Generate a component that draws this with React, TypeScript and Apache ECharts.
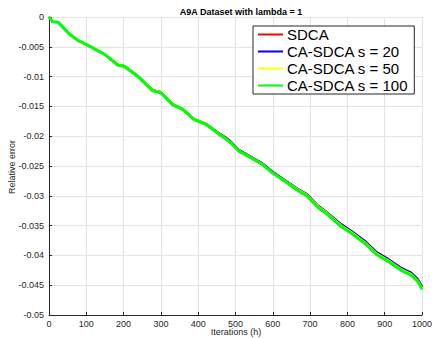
import React, { useEffect, useRef } from "react";
import * as echarts from "echarts";

const iterations = [0, 10, 25, 55, 77, 115, 123, 150, 185, 202, 230, 242, 278, 300, 331, 358, 389, 420, 456, 473, 487, 509, 535, 571, 598, 633, 669, 691, 722, 740, 784, 811, 847, 877, 909, 944, 971, 989, 1000];

const sdca = [0, -0.0008, -0.0009, -0.0029, -0.0039, -0.0051, -0.0054, -0.0063, -0.0080, -0.0082, -0.0095, -0.0101, -0.0123, -0.0126, -0.0146, -0.0154, -0.0171, -0.0179, -0.0195, -0.0202, -0.0209, -0.0223, -0.0232, -0.0245, -0.0259, -0.0274, -0.0289, -0.0297, -0.0317, -0.0325, -0.0348, -0.0359, -0.0376, -0.0394, -0.0406, -0.0421, -0.0429, -0.0440, -0.0452];
const caS20 = [0, -0.0008, -0.0009, -0.0029, -0.0039, -0.0051, -0.0054, -0.0063, -0.0080, -0.0082, -0.0095, -0.0101, -0.0123, -0.0126, -0.0146, -0.0154, -0.0171, -0.0179, -0.0195, -0.0202, -0.0209, -0.0223, -0.0232, -0.0245, -0.0259, -0.0274, -0.0289, -0.0297, -0.0317, -0.0325, -0.0348, -0.0359, -0.0376, -0.0394, -0.0406, -0.0421, -0.0429, -0.0440, -0.0453];
const caS50 = [0, -0.0008, -0.0009, -0.0029, -0.0039, -0.0051, -0.0054, -0.0063, -0.0080, -0.0082, -0.0095, -0.0101, -0.0123, -0.0126, -0.0146, -0.0154, -0.0171, -0.0179, -0.0196, -0.0203, -0.0210, -0.0224, -0.0233, -0.0246, -0.0260, -0.0275, -0.0290, -0.0298, -0.0318, -0.0326, -0.0350, -0.0361, -0.0378, -0.0396, -0.0408, -0.0423, -0.0431, -0.0442, -0.0455];
const caS100 = [0, -0.0008, -0.0009, -0.0029, -0.0039, -0.0051, -0.0054, -0.0063, -0.0081, -0.0083, -0.0096, -0.0102, -0.0124, -0.0127, -0.0147, -0.0155, -0.0172, -0.0180, -0.0197, -0.0204, -0.0211, -0.0225, -0.0234, -0.0247, -0.0261, -0.0276, -0.0292, -0.0300, -0.0320, -0.0328, -0.0352, -0.0363, -0.0380, -0.0398, -0.0410, -0.0425, -0.0433, -0.0444, -0.0457];

const seriesNames = ["SDCA", "CA-SDCA s = 20", "CA-SDCA s = 50", "CA-SDCA s = 100"];
const seriesColors = ["#ff0000", "#0000ff", "#ffff00", "#00ff00"];
const seriesWidths = [2, 2, 2, 3];
const seriesValues = [sdca, caS20, caS50, caS100];

export default function App() {
  const ref = useRef<HTMLDivElement>(null);
  useEffect(() => {
    if (!ref.current) return;
    document.body.style.margin = "0";
    const chart = echarts.init(ref.current, undefined, { renderer: "svg" });
    const font = "Liberation Sans, Arial, Helvetica, sans-serif";
    chart.setOption({
      animation: false,
      backgroundColor: "#ffffff",
      title: {
        text: "A9A Dataset with lambda = 1",
        left: 236,
        top: 2,
        textAlign: "center",
        textStyle: { fontSize: 9, fontWeight: "bold", color: "#000", fontFamily: font },
      },
      legend: {
        orient: "vertical",
        left: 253,
        top: 26,
        padding: [0, 6, 0, 5],
        itemGap: 0,
        itemWidth: 25,
        itemHeight: 2,
        icon: "path://M0,0H25V2H0Z",
        itemStyle: { borderWidth: 0 },
        lineStyle: { width: 0, opacity: 0 },
        backgroundColor: "#fff",
        borderColor: "#262626",
        borderWidth: 1,
        borderRadius: 0,
        textStyle: { fontSize: 15, lineHeight: 17, color: "#000", fontFamily: font, padding: [0, 0, 0, -1] },
        data: seriesNames,
      },
      grid: { left: 49, right: 11, top: 17, bottom: 23, containLabel: false },
      xAxis: {
        type: "value",
        min: 0,
        max: 1000,
        interval: 100,
        axisLine: { show: true, onZero: false, lineStyle: { color: "#262626", width: 1 } },
        axisTick: { show: true, inside: true, length: 3, lineStyle: { color: "#262626" } },
        axisLabel: { fontSize: 9, color: "#262626", margin: 4, fontFamily: font, formatter: (v: number) => String(v) },
        splitLine: { show: true, lineStyle: { color: "#e3e3e3", width: 1 } },
      },
      yAxis: {
        type: "value",
        min: -0.05,
        max: 0,
        interval: 0.005,
        axisLine: { show: true, onZero: false, lineStyle: { color: "#262626", width: 1 } },
        axisTick: { show: true, inside: true, length: 3, lineStyle: { color: "#262626" } },
        axisLabel: {
          fontSize: 9,
          color: "#262626",
          margin: 5,
          fontFamily: font,
          formatter: (v: number) => (Math.abs(v) < 1e-12 ? "0" : String(+v.toFixed(3))),
        },
        splitLine: { show: true, lineStyle: { color: "#e3e3e3", width: 1 } },
      },
      graphic: [
        {
          type: "text",
          x: 12,
          y: 167,
          rotation: Math.PI / 2,
          style: { text: "Relative error", fontSize: 9, fill: "#262626", fontFamily: font, align: "center", verticalAlign: "middle" },
        },
        {
          type: "text",
          x: 236,
          y: 332,
          style: { text: "Iterations (h)", fontSize: 9, fill: "#262626", fontFamily: font, align: "center", verticalAlign: "middle" },
        },
      ],
      series: seriesNames.map((name, i) => ({
        name,
        type: "line",
        showSymbol: false,
        symbol: "none",
        color: seriesColors[i],
        lineStyle: { color: seriesColors[i], width: seriesWidths[i] },
        data: iterations.map((x, j) => [x, seriesValues[i][j]]),
        z: 2 + i,
      })),
    });
    return () => chart.dispose();
  }, []);
  return <div ref={ref} style={{ width: 435, height: 338, position: "fixed", left: 0, top: 0 }} />;
}
